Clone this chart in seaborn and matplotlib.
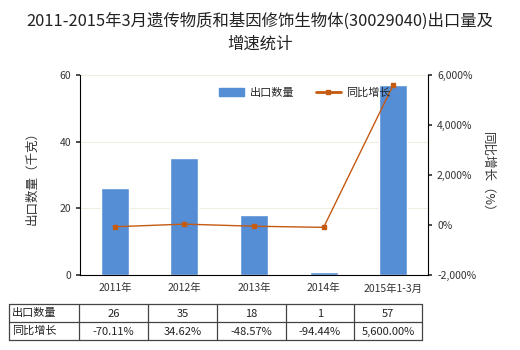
import matplotlib
matplotlib.use("Agg")
import matplotlib.pyplot as plt
import seaborn as sns
import numpy as np
import pandas as pd
from matplotlib.lines import Line2D
from matplotlib.patches import Patch
from matplotlib.ticker import FuncFormatter

categories = ["2011年", "2012年", "2013年", "2014年", "2015年1-3月"]
export_qty = [26, 35, 18, 1, 57]
growth = [-70.11, 34.62, -48.57, -94.44, 5600.00]
qty_labels = ["26", "35", "18", "1", "57"]
growth_labels = ["-70.11%", "34.62%", "-48.57%", "-94.44%", "5,600.00%"]
title = "2011-2015年3月遗传物质和基因修饰生物体(30029040)出口量及\n增速统计"

sns.set_theme(style="white")
plt.rcParams['font.family'] = ['Noto Sans CJK SC', 'DejaVu Sans']

bar_color = "#558ED5"
line_color = "#C55A11"

fig = plt.figure(figsize=(5.2, 3.5), dpi=100)
ax = fig.add_axes([80/520, 1-275/350, 348/520, 200/350])

df = pd.DataFrame({"cat": categories, "qty": export_qty})
sns.barplot(data=df, x="cat", y="qty", color=bar_color, width=0.4, ax=ax, saturation=1)
ax.set_xlim(-0.5, 4.5)
ax.set_ylim(0, 60)
ax.set_yticks([0, 20, 40, 60])
ax.grid(axis='y', color='#F0EEE0', linewidth=0.8)
ax.set_axisbelow(True)
ax.set_xlabel("")
ax.set_ylabel("出口数量（千克）", fontsize=9, color="#333333", labelpad=15)
ax.tick_params(axis='both', labelsize=7.5, colors="#333333", length=3, direction='out')
ax.tick_params(axis='x', length=0, pad=6)
ax.tick_params(axis='y', left=True)
for s in ["top", "right"]:
    ax.spines[s].set_visible(False)
for s in ["left", "bottom"]:
    ax.spines[s].set_color("black")
    ax.spines[s].set_linewidth(0.8)

ax2 = ax.twinx()
ax2.plot(np.arange(len(categories)), growth, color=line_color, linewidth=1,
         marker='s', markersize=3.5, zorder=5)
ax2.set_ylim(-2000, 6000)
ax2.set_yticks([-2000, 0, 2000, 4000, 6000])
ax2.yaxis.set_major_formatter(FuncFormatter(lambda v, p: f"{v:,.0f}%"))
ax2.tick_params(axis='y', labelsize=7.5, colors="#333333", length=3, direction='out', right=True)
ax2.set_ylabel("同比增长（%）", fontsize=9, color="#333333", rotation=-90, labelpad=13)
for s in ["top", "left", "bottom"]:
    ax2.spines[s].set_visible(False)
ax2.spines["right"].set_color("black")
ax2.spines["right"].set_linewidth(0.8)
ax2.grid(False)

handles = [Patch(color=bar_color, label="出口数量"),
           Line2D([0], [0], color=line_color, marker='s', markersize=3.5, linewidth=2, label="同比增长")]
fig.legend(handles=handles, loc='center', bbox_to_anchor=(305/520, 1-93/350), ncol=2,
           frameon=False, fontsize=8, handlelength=2.2, columnspacing=2.0,
           handletextpad=0.5)

fig.text(0.5, 1-13/350, title, ha='center', va='top', fontsize=11.8, color="#222222", linespacing=1.4)

# table
tax = fig.add_axes([9/520, 1-340/350, 413/520, 36/350])
tax.set_xlim(0, 413)
tax.set_ylim(0, 2)
tax.axis('off')
bounds = [0, 70, 139, 208, 277, 345, 413]
lc = "#444444"
for b in bounds:
    tax.plot([b, b], [0, 2], color=lc, linewidth=0.9, clip_on=False)
for yv in [0, 1, 2]:
    tax.plot([0, 413], [yv, yv], color=lc, linewidth=0.9, clip_on=False)
tax.text(3, 1.5, "出口数量", ha='left', va='center', fontsize=8, color="#222222")
tax.text(3, 0.5, "同比增长", ha='left', va='center', fontsize=8, color="#222222")
for i in range(len(categories)):
    cx = (bounds[i+1] + bounds[i+2]) / 2
    tax.text(cx, 1.45, qty_labels[i], ha='center', va='center', fontsize=8, color="#222222")
    tax.text(cx, 0.45, growth_labels[i], ha='center', va='center', fontsize=8, color="#222222")

fig.savefig("out.png", dpi=100)
